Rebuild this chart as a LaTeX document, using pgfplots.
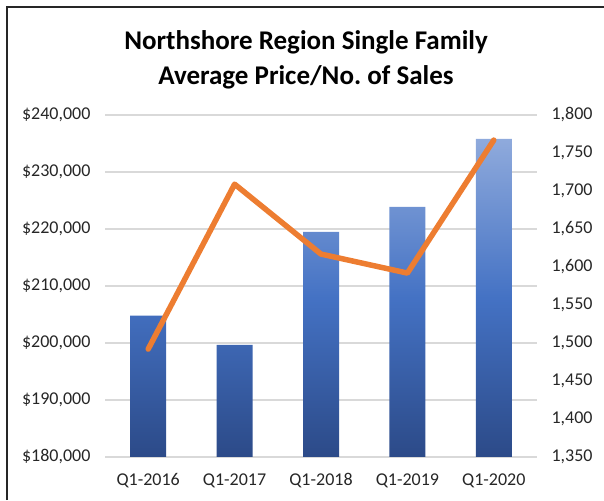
\documentclass[border=0pt]{standalone}
\usepackage{pgfplots}
\pgfplotsset{compat=1.18}
\usepackage{fontspec}
\setmainfont{Carlito}

\definecolor{barlight}{HTML}{8FAADC}
\definecolor{barmid}{HTML}{4472C4}
\definecolor{bardark}{HTML}{2C4A88}
\definecolor{linecol}{HTML}{ED7D31}
\definecolor{gridcol}{HTML}{D9D9D9}
\definecolor{txt}{HTML}{262626}

\begin{document}
\begin{tikzpicture}
\useasboundingbox (0pt,0pt) rectangle (604pt,500pt);
% frame (only the left and top edges are visible)
\draw[line width=1.5pt, black!85] (7pt,0pt) -- (7pt,493pt) -- (604pt,493pt);
\node[anchor=base, font=\fontsize{27}{32}\selectfont\bfseries] at (306pt,450pt) {Northshore Region Single Family};
\node[anchor=base, font=\fontsize{27}{32}\selectfont\bfseries] at (306pt,415pt) {Average Price/No.\ of Sales};

% average price (bars, left axis)
\begin{axis}[
    at={(105pt,43pt)}, anchor=south west,
    scale only axis, width=432pt, height=342pt,
    xmin=-0.5, xmax=4.5,
    ymin=180000, ymax=240000,
    scaled y ticks=false,
    xtick={0,1,2,3,4},
    xticklabels={Q1-2016,Q1-2017,Q1-2018,Q1-2019,Q1-2020},
    ytick={180000,190000,200000,210000,220000,230000,240000},
    yticklabels={{\$180,000},{\$190,000},{\$200,000},{\$210,000},{\$220,000},{\$230,000},{\$240,000}},
    ymajorgrids, grid style={gridcol, line width=1.5pt},
    axis line style={draw=none},
    major tick length=0pt,
    tick label style={font=\fontsize{18}{21}\selectfont, text=txt},
    xticklabel style={yshift=-13pt},
    yticklabel style={xshift=-11pt},
]
\addplot[ybar, bar width=36pt, draw=none,
    top color=barlight, bottom color=bardark, middle color=barmid]
  coordinates {(0,204800) (1,199650) (2,219500) (3,223900) (4,235800)};
\end{axis}

% number of sales (line, right axis)
\begin{axis}[
    at={(105pt,43pt)}, anchor=south west,
    scale only axis, width=432pt, height=342pt,
    xmin=-0.5, xmax=4.5,
    ymin=1350, ymax=1800,
    axis x line=none,
    axis y line*=right,
    axis line style={draw=none},
    ytick={1350,1400,1450,1500,1550,1600,1650,1700,1750,1800},
    yticklabels={{1,350},{1,400},{1,450},{1,500},{1,550},{1,600},{1,650},{1,700},{1,750},{1,800}},
    major tick length=0pt,
    tick label style={font=\fontsize{18}{21}\selectfont, text=txt},
    yticklabel style={xshift=11pt},
]
\addplot[linecol, line width=5.5pt, line join=round, line cap=round]
  coordinates {(0,1492) (1,1709) (2,1617) (3,1592) (4,1767)};
\end{axis}
\end{tikzpicture}
\end{document}
